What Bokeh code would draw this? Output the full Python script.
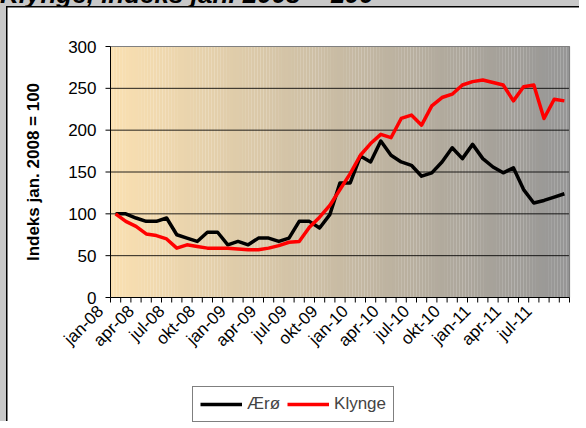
import math
import numpy as np
from bokeh.plotting import figure
from bokeh.models import Legend, LegendItem, Range1d
from bokeh.core.properties import value
from bokeh.embed import file_html
from bokeh.resources import INLINE

# ---- data (monthly, jan-08 .. sep-11) ----
title_text = "Klynge, indeks jan. 2008 = 100"
y_title = "Indeks jan. 2008 = 100"
tick_labels = ["jan-08", "apr-08", "jul-08", "okt-08", "jan-09", "apr-09", "jul-09",
               "okt-09", "jan-10", "apr-10", "jul-10", "okt-10", "jan-11", "apr-11", "jul-11"]
aero = [100, 100, 95, 91, 91, 95, 75, 71, 67, 78, 78, 63, 67, 63, 71, 71, 67, 71,
        91, 91, 83, 99, 137, 137, 169, 162, 187, 170, 162, 158, 145, 149, 162, 179,
        166, 183, 166, 156, 149, 155, 129, 113, 116, 120, 124]
klynge = [100, 91, 85, 76, 74, 70, 59, 63, 61, 59, 59, 59, 58, 57, 57, 59, 62, 66,
          67, 84, 96, 110, 129, 148, 170, 184, 195, 191, 214, 218, 206, 229, 239, 243,
          254, 258, 260, 257, 254, 235, 252, 254, 214, 237, 235]
y_ticks = [0, 50, 100, 150, 200, 250, 300]

n = len(aero)
x = list(range(n))
FONT = "Liberation Sans"
Y_MAX = 300

# ---- geometry (pixels) ----
W, H = 579, 421
LEFT, RIGHT, TOP, BOTTOM = 103, 17, 39, 131          # plot area inside the canvas
PX_X = (W - LEFT - RIGHT) / n                        # px per category
PX_Y = (H - TOP - BOTTOM) / Y_MAX                    # px per index point
x_lo, x_hi = -0.5, n - 0.5
TICK = 5

# the frame covers the whole canvas so that labels and legend are never clipped
p = figure(width=W, height=H, output_backend="svg", toolbar_location=None,
           x_range=Range1d(x_lo - LEFT / PX_X, x_hi + RIGHT / PX_X),
           y_range=Range1d(-BOTTOM / PX_Y, Y_MAX + TOP / PX_Y),
           x_axis_location=None, y_axis_location=None,
           min_border=0, min_border_left=0, min_border_right=0,
           min_border_top=0, min_border_bottom=0)
p.styles = {"border-left": "6px solid #c8c8c8", "border-top": "6px solid #c8c8c8",
            "padding-left": "1px", "padding-top": "1px", "background-color": "black"}
p.stylesheets = [":host::before { content: '%s'; position: absolute; left: -6px; top: -30px;"
                 " font-family: 'Liberation Sans'; font-style: italic; font-weight: bold;"
                 " font-size: 26px; color: black; white-space: nowrap; }" % title_text]
p.border_fill_color = "white"
p.background_fill_color = "white"
p.outline_line_color = None
p.grid.visible = False

# gradient background of the plot area (peach -> grey)
c0 = np.array([251, 225, 178])
c1 = np.array([150, 150, 150])
steps = 150
edges = np.linspace(x_lo, x_hi, steps + 1)
cols = []
for k in range(steps):
    t = (k + 0.5) / steps
    c = (c0 * (1 - t) + c1 * t).astype(int)
    cols.append("#%02x%02x%02x" % tuple(c))
p.quad(left=edges[:-1], right=edges[1:] + 0.01, bottom=0, top=Y_MAX, fill_color=cols,
       line_color=None)

# horizontal gridlines (inside the plot area only)
grid_vals = y_ticks[1:-1]
p.segment(x0=[x_lo] * len(grid_vals), y0=grid_vals, x1=[x_hi] * len(grid_vals),
          y1=grid_vals, line_color="black", line_alpha=0.85, line_width=1)

# plot-area border (top and right, grey)
p.line([x_lo, x_hi, x_hi], [Y_MAX, Y_MAX, 0], line_color="#808080", line_width=1.2)

# data series
r1 = p.line(x, aero, line_color="black", line_width=3.5, line_join="round")
r2 = p.line(x, klynge, line_color="#ff0000", line_width=3.5, line_join="round")

# ---- value axis (left) ----
p.line([x_lo, x_lo], [0, Y_MAX], line_color="black", line_width=1)
p.segment(x0=[x_lo - TICK / PX_X] * len(y_ticks), y0=y_ticks,
          x1=[x_lo] * len(y_ticks), y1=y_ticks, line_color="black", line_width=1)
p.text(x=[x_lo] * len(y_ticks), y=y_ticks, text=[str(t) for t in y_ticks],
       text_align="right", text_baseline="middle", x_offset=-(TICK + 9),
       text_font=value(FONT), text_font_size="17px", text_color="black")
p.text(x=[x_lo], y=[Y_MAX / 2], text=[y_title], angle=math.pi / 2,
       text_align="center", text_baseline="middle", x_offset=-77,
       text_font=value(FONT), text_font_size="17px", text_font_style="bold",
       text_color="black")

# ---- category axis (bottom) ----
p.line([x_lo, x_hi], [0, 0], line_color="black", line_width=1)
bounds_x = [k - 0.5 for k in range(n + 1)]
p.segment(x0=bounds_x, y0=[0] * len(bounds_x), x1=bounds_x,
          y1=[-TICK / PX_Y] * len(bounds_x), line_color="black", line_width=1)
label_pos = [i * 3 for i in range(len(tick_labels))]
p.text(x=label_pos, y=[0] * len(label_pos), text=tick_labels, angle=math.pi / 4,
       text_align="right", text_baseline="middle", x_offset=-15, y_offset=11,
       text_font=value(FONT), text_font_size="17px", text_color="black")

legend = Legend(items=[LegendItem(label="Ærø", renderers=[r1]),
                       LegendItem(label="Klynge", renderers=[r2])],
                orientation="horizontal", location=(185, 6),
                border_line_color="black", border_line_width=1,
                background_fill_color="white", background_fill_alpha=1,
                label_text_font=FONT, label_text_font_size="17px",
                glyph_width=42, glyph_height=20, label_standoff=5,
                spacing=7, padding=7, margin=0)
p.add_layout(legend)

open("out.html", "w").write(file_html(p, INLINE))
